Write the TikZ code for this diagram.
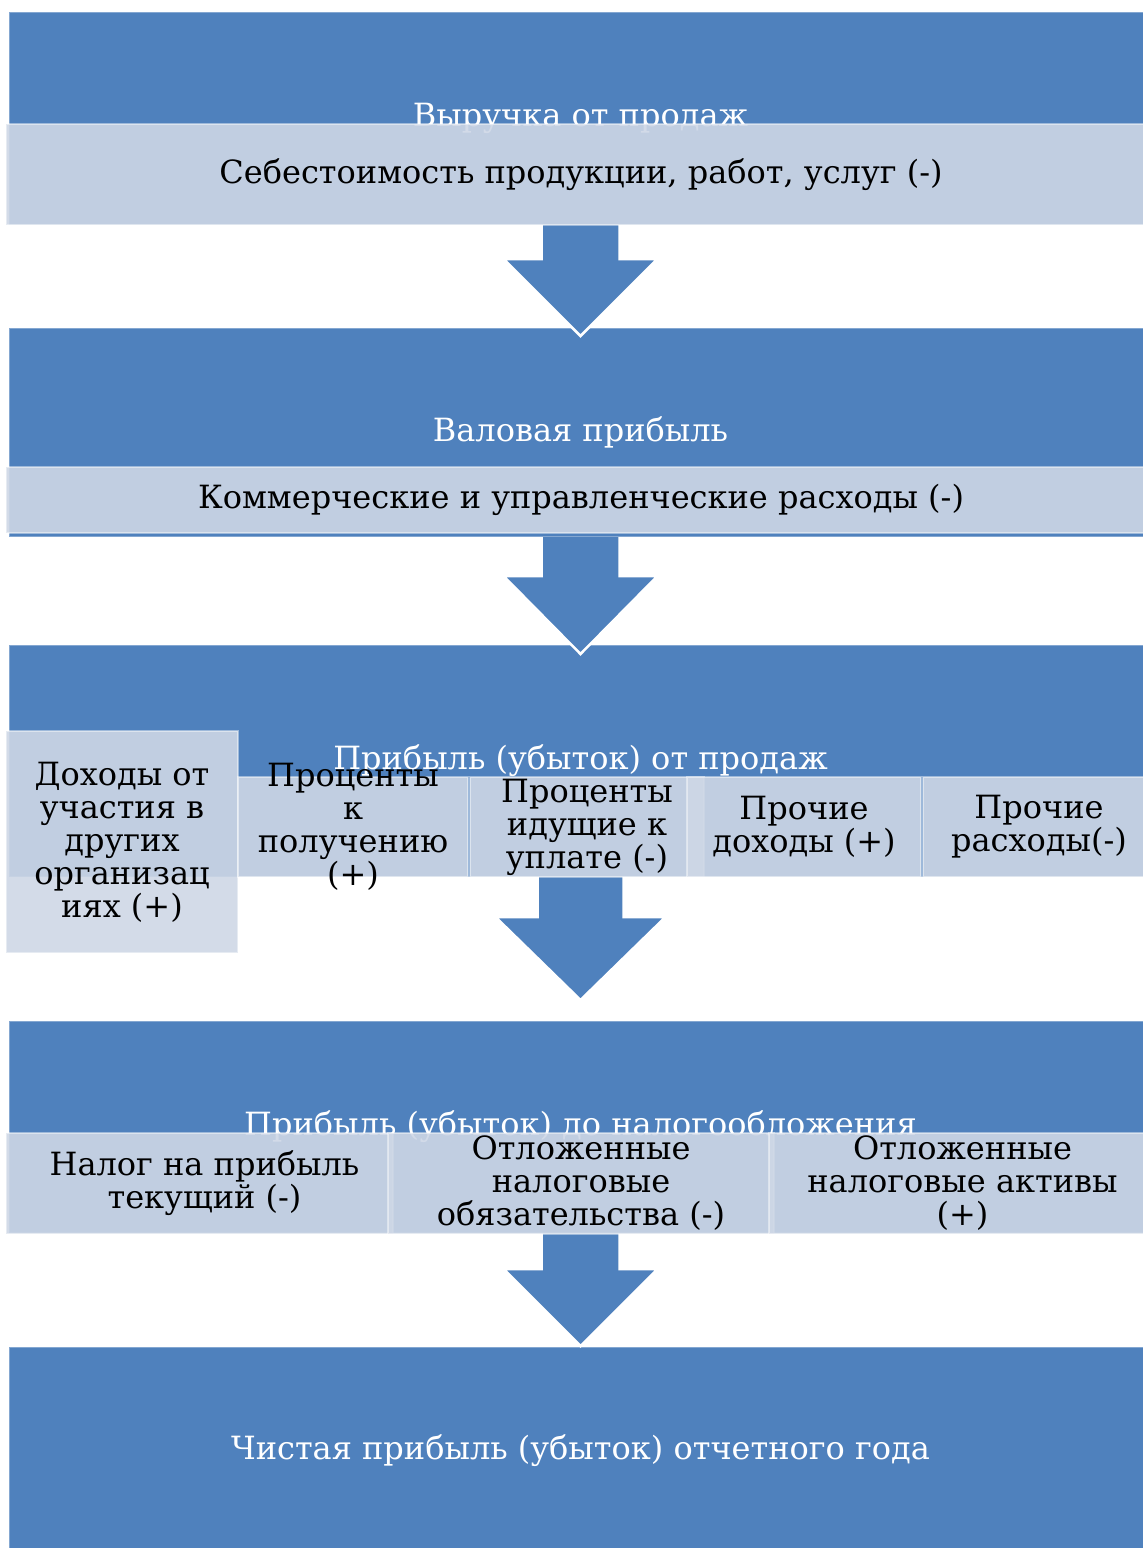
\documentclass[tikz,border=0pt]{standalone}
\usepackage{fontspec}
\setmainfont{DejaVu Serif}
\usetikzlibrary{calc}
\usepackage{xcolor}

\definecolor{boxblue}{RGB}{79,129,189}
\definecolor{boxlight}{RGB}{206,215,230}

\newcommand{\diagfont}{\fontsize{32}{33}\selectfont}

% block arrow hanging under a box: node, shaft half, head half, shaft length, head length
\newcommand{\flowarrow}[5]{%
  \fill[boxblue] ($(#1.south)+(-#2,0)$) -- ++(0,#4) -- ++(#2-#3,0) -- ++(#3,#5)
    -- ++(#3,-#5) -- ++(#2-#3,0) -- ++(0,-#4) -- cycle;
  \draw[white, line width=2.5pt, line join=miter] ($(#1.south)+(-#2,0)$) -- ++(0,#4)
    -- ++(#2-#3,0) -- ++(#3,#5) -- ++(#3,-#5) -- ++(#2-#3,0) -- ++(0,-#4);
}

\begin{document}
\begin{tikzpicture}[x=1pt,y=-1pt,
  bluebox/.style={fill=boxblue, draw=boxblue!70!white, line width=1pt, text=white,
    anchor=north west, inner sep=0pt, font=\diagfont},
  lightbox/.style={fill=boxlight, fill opacity=0.9, draw=white, draw opacity=0.45,
    line width=2pt, anchor=north west, inner sep=0pt},
  boxtext/.style={text=black, align=center, inner sep=0pt, font=\diagfont}]
\useasboundingbox (0,0) rectangle (1143,1548);
\clip (0,0) rectangle (1143,1548);

% --- blue result bars ---
\node[bluebox, minimum width=1142pt, minimum height=212pt] (rev) at (9,12) {Выручка от продаж};
\node[bluebox, minimum width=1142pt, minimum height=208pt] (gross) at (9,328) {Валовая прибыль};
\node[bluebox, minimum width=1142pt, minimum height=231pt] (sales) at (9,645) {Прибыль (убыток) от продаж};
\node[bluebox, minimum width=1142pt, minimum height=211pt] (pretax) at (9,1021) {Прибыль (убыток) до налогообложения};
\node[bluebox, minimum width=1142pt, minimum height=206pt] (net) at (9,1347) {Чистая прибыль (убыток) отчетного года};

% --- arrows between the bars ---
\flowarrow{rev}{39}{77}{34}{77}
\flowarrow{gross}{39}{77}{39}{78}
\flowarrow{sales}{43}{85}{40}{83}
\flowarrow{pretax}{39}{77}{36}{77}

% --- row 1 ---
\node[lightbox, minimum width=1150pt, minimum height=101pt] (cost) at (5,123) {};
\node[boxtext] (cost-t) at (cost.center) {Себестоимость продукции, работ, услуг (-)};

% --- row 2 ---
\node[lightbox, minimum width=1150pt, minimum height=66pt] (admin) at (5,466) {};
\node[boxtext] (admin-t) at (admin.center) {Коммерческие и управленческие расходы (-)};

% --- row 3 ---
\node[lightbox, minimum width=232pt, minimum height=222pt] (share) at (5,730) {};
\node[lightbox, minimum width=230pt, minimum height=100pt] (intin) at (237,776) {};
\node[lightbox, minimum width=234pt, minimum height=100pt] (intout) at (469,776) {};
\node[lightbox, minimum width=234pt, minimum height=100pt] (othinc) at (686,776) {};
\node[lightbox, minimum width=232pt, minimum height=100pt] (othexp) at (922,776) {};
\node[boxtext] (share-t) at (share.center) {Доходы от\\участия в\\других\\организац\\иях (+)};
\node[boxtext] (intin-t) at (intin.center) {Проценты\\к\\получению\\(+)};
\node[boxtext] (intout-t) at (intout.center) {Проценты\\идущие к\\уплате (-)};
\node[boxtext] (othinc-t) at (othinc.center) {Прочие\\доходы (+)};
\node[boxtext] (othexp-t) at (othexp.center) {Прочие\\расходы(-)};

% --- row 4 ---
\node[lightbox, minimum width=387pt, minimum height=101pt] (taxcur) at (5,1132) {};
\node[lightbox, minimum width=386pt, minimum height=101pt] (deflia) at (387,1132) {};
\node[lightbox, minimum width=387pt, minimum height=101pt] (defass) at (768,1132) {};
\node[boxtext, xshift=5pt] (taxcur-t) at (taxcur.center) {Налог на прибыль\\текущий (-)};
\node[boxtext] (deflia-t) at (deflia.center) {Отложенные\\налоговые\\обязательства (-)};
\node[boxtext] (defass-t) at (defass.center) {Отложенные\\налоговые активы\\(+)};
\end{tikzpicture}
\end{document}
